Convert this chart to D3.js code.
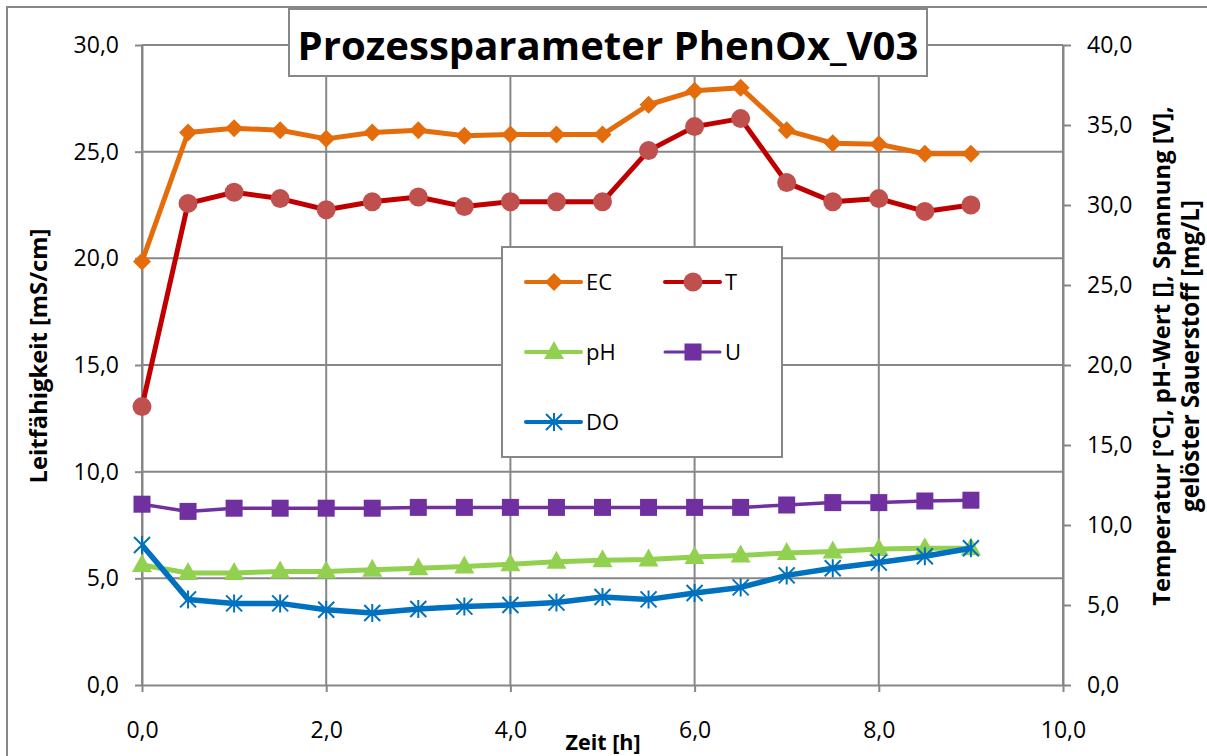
<!DOCTYPE html>
<html><head><meta charset="utf-8">
<script src="https://cdn.jsdelivr.net/npm/d3@7"></script>
<style>body{margin:0;background:#fff}svg{display:block;font-family:"Open Sans",sans-serif}</style>
</head><body>
<svg id="c" width="1207" height="756"></svg>
<script>
const time = [0,0.5,1,1.5,2,2.5,3,3.5,4,4.5,5,5.5,6,6.5,7,7.5,8,8.5,9];
const EC = [19.85,25.9,26.1,26.0,25.6,25.9,26.0,25.75,25.8,25.8,25.8,27.2,27.85,28.0,26.0,25.4,25.35,24.9,24.9];
const T  = [17.4,30.1,30.8,30.4,29.7,30.2,30.5,29.9,30.2,30.2,30.2,33.4,34.9,35.4,31.4,30.2,30.4,29.6,30.0];
const pH = [7.5,7.0,7.0,7.1,7.1,7.2,7.3,7.4,7.55,7.7,7.8,7.85,8.0,8.1,8.25,8.35,8.5,8.55,8.55];
const U  = [11.3,10.85,11.05,11.05,11.05,11.05,11.1,11.1,11.1,11.1,11.1,11.1,11.1,11.1,11.25,11.4,11.4,11.5,11.55];
const DO = [8.75,5.35,5.1,5.1,4.7,4.5,4.75,4.9,5.0,5.15,5.5,5.35,5.75,6.1,6.85,7.3,7.65,8.05,8.55];
const xTicks = [0,2,4,6,8,10];
const yLeftTicks = [0,5,10,15,20,25,30];
const yRightTicks = [0,5,10,15,20,25,30,35,40];
const titleText = "Prozessparameter PhenOx_V03";
const xTitle = "Zeit [h]";
const yLeftTitle = "Leitfähigkeit [mS/cm]";
const yRightTitle1 = "Temperatur [°C], pH-Wert [], Spannung [V],";
const yRightTitle2 = "gelöster Sauerstoff [mg/L]";

const svg = d3.select("#c");
const GRID = "#878787";
const fmt = d => d3.format(".1f")(d).replace(".", ",");

const x = d3.scaleLinear([0,10],[142,1063]);
const yL = d3.scaleLinear([0,30],[685,45]);
const yR = d3.scaleLinear([0,40],[685,45]);

// outer frame
svg.append("rect").attr("x",7).attr("y",7).attr("width",1215).attr("height",770)
  .attr("fill","#fff").attr("stroke",GRID).attr("stroke-width",2);

// gridlines
const g = svg.append("g");
g.selectAll(".gh").data(yLeftTicks.filter(d=>d>0)).join("line")
  .attr("x1",x(0)).attr("x2",x(10)).attr("y1",d=>yL(d)).attr("y2",d=>yL(d))
  .attr("stroke",GRID).attr("stroke-width",2);
g.selectAll(".gv").data(xTicks).join("line")
  .attr("x1",d=>x(d)).attr("x2",d=>x(d)).attr("y1",yL(0)).attr("y2",yL(30))
  .attr("stroke",GRID).attr("stroke-width",2);

function styleAxis(sel){
  sel.selectAll("path,line").attr("stroke",GRID).attr("stroke-width",2);
  sel.selectAll("text").attr("font-size",23).attr("fill","#000").attr("font-family","'Open Sans',sans-serif");
}
const axL = svg.append("g").attr("transform",`translate(${x(0)},0)`)
  .call(d3.axisLeft(yL).tickValues(yLeftTicks).tickFormat(fmt).tickSize(7).tickPadding(16).tickSizeOuter(0));
styleAxis(axL);
const axR = svg.append("g").attr("transform",`translate(${x(10)},0)`)
  .call(d3.axisRight(yR).tickValues(yRightTicks).tickFormat(fmt).tickSize(8).tickPadding(16).tickSizeOuter(0));
styleAxis(axR);
const axB = svg.append("g").attr("transform",`translate(0,${yL(0)})`)
  .call(d3.axisBottom(x).tickValues(xTicks).tickFormat(fmt).tickSize(7).tickPadding(30).tickSizeOuter(0));
styleAxis(axB);

// symbols
function drawMarker(sel, type, color){
  if(type==="diamond"){
    sel.append("path").attr("d","M0,-9L9,0L0,9L-9,0Z").attr("fill",color);
  } else if(type==="circle"){
    sel.append("circle").attr("r",9.5).attr("fill",color);
  } else if(type==="square"){
    sel.append("rect").attr("x",-8.5).attr("y",-8.5).attr("width",17).attr("height",17).attr("fill",color);
  } else if(type==="triangle"){
    sel.append("path").attr("d","M0,-11L10,7L-10,7Z").attr("fill",color);
  } else if(type==="star"){
    sel.append("path").attr("d","M0,-9V9M-8,-8L8,8M-8,8L8,-8").attr("stroke",color).attr("stroke-width",2).attr("fill","none");
  }
}

const series = [
  {name:"EC", vals:EC, y:yL, line:"#E46C0A", mk:"#E46C0A", type:"diamond", w:5},
  {name:"T", vals:T, y:yR, line:"#C00000", mk:"#C0504D", type:"circle", w:5},
  {name:"pH", vals:pH, y:yR, line:"#92D050", mk:"#92D050", type:"triangle", w:5},
  {name:"U", vals:U, y:yR, line:"#7030A0", mk:"#7030A0", type:"square", w:3.5},
  {name:"DO", vals:DO, y:yR, line:"#0070C0", mk:"#0070C0", type:"star", w:5.5},
];

series.forEach(s=>{
  const pts = time.map((t,i)=>[t,s.vals[i]]);
  svg.append("path").datum(pts)
    .attr("d", d3.line().x(d=>x(d[0])).y(d=>s.y(d[1])))
    .attr("fill","none").attr("stroke",s.line).attr("stroke-width",s.w).attr("stroke-linejoin","round");
  svg.append("g").selectAll("g").data(pts).join("g")
    .attr("transform",d=>`translate(${x(d[0])},${s.y(d[1])})`)
    .each(function(){ drawMarker(d3.select(this), s.type, s.mk); });
});

// legend
const leg = svg.append("g");
leg.append("rect").attr("x",502).attr("y",247).attr("width",280).attr("height",210)
  .attr("fill","#fff").attr("stroke",GRID).attr("stroke-width",2);
const legPos = [[526,282],[665,282],[526,352],[665,352],[526,422]];
series.forEach((s,i)=>{
  const [lx,ly] = legPos[i];
  const it = leg.append("g").attr("transform",`translate(${lx},${ly})`);
  it.append("line").attr("x1",0).attr("x2",55).attr("stroke",s.line).attr("stroke-width",s.type==="square"?3:4).attr("stroke-linecap","round");
  drawMarker(it.append("g").attr("transform","translate(28,0)"), s.type, s.mk);
  it.append("text").attr("x",60).attr("y",0).attr("dy","0.36em").attr("font-size",22).text(s.name);
});

// title
svg.append("rect").attr("x",289).attr("y",9).attr("width",638).attr("height",67)
  .attr("fill","#fff").attr("stroke",GRID).attr("stroke-width",2);
function fit(t, w){
  const cur = t.node().getComputedTextLength();
  const fs = parseFloat(t.attr("font-size"));
  t.attr("font-size", fs * w / cur);
}
const tt = svg.append("text").attr("x",608).attr("y",60).attr("text-anchor","middle")
  .attr("font-weight","bold").attr("font-size",40).text(titleText);
fit(tt, 621);

const xt = svg.append("text").attr("x",603).attr("y",750).attr("text-anchor","middle")
  .attr("font-weight","bold").attr("font-size",20).text(xTitle);
fit(xt, 75);

const ylt = svg.append("text").attr("transform","translate(38,356) rotate(-90)").attr("text-anchor","middle")
  .attr("dominant-baseline","central").attr("font-weight","bold").attr("font-size",20).text(yLeftTitle);
fit(ylt, 255);
const yrt1 = svg.append("text").attr("transform","translate(1161,356) rotate(-90)").attr("text-anchor","middle")
  .attr("dominant-baseline","central").attr("font-weight","bold").attr("font-size",20).text(yRightTitle1);
fit(yrt1, 500);
const yrt2 = svg.append("text").attr("transform","translate(1189,356) rotate(-90)").attr("text-anchor","middle")
  .attr("dominant-baseline","central").attr("font-weight","bold").attr("font-size",20).text(yRightTitle2);
fit(yrt2, 312);
</script>
</body></html>
